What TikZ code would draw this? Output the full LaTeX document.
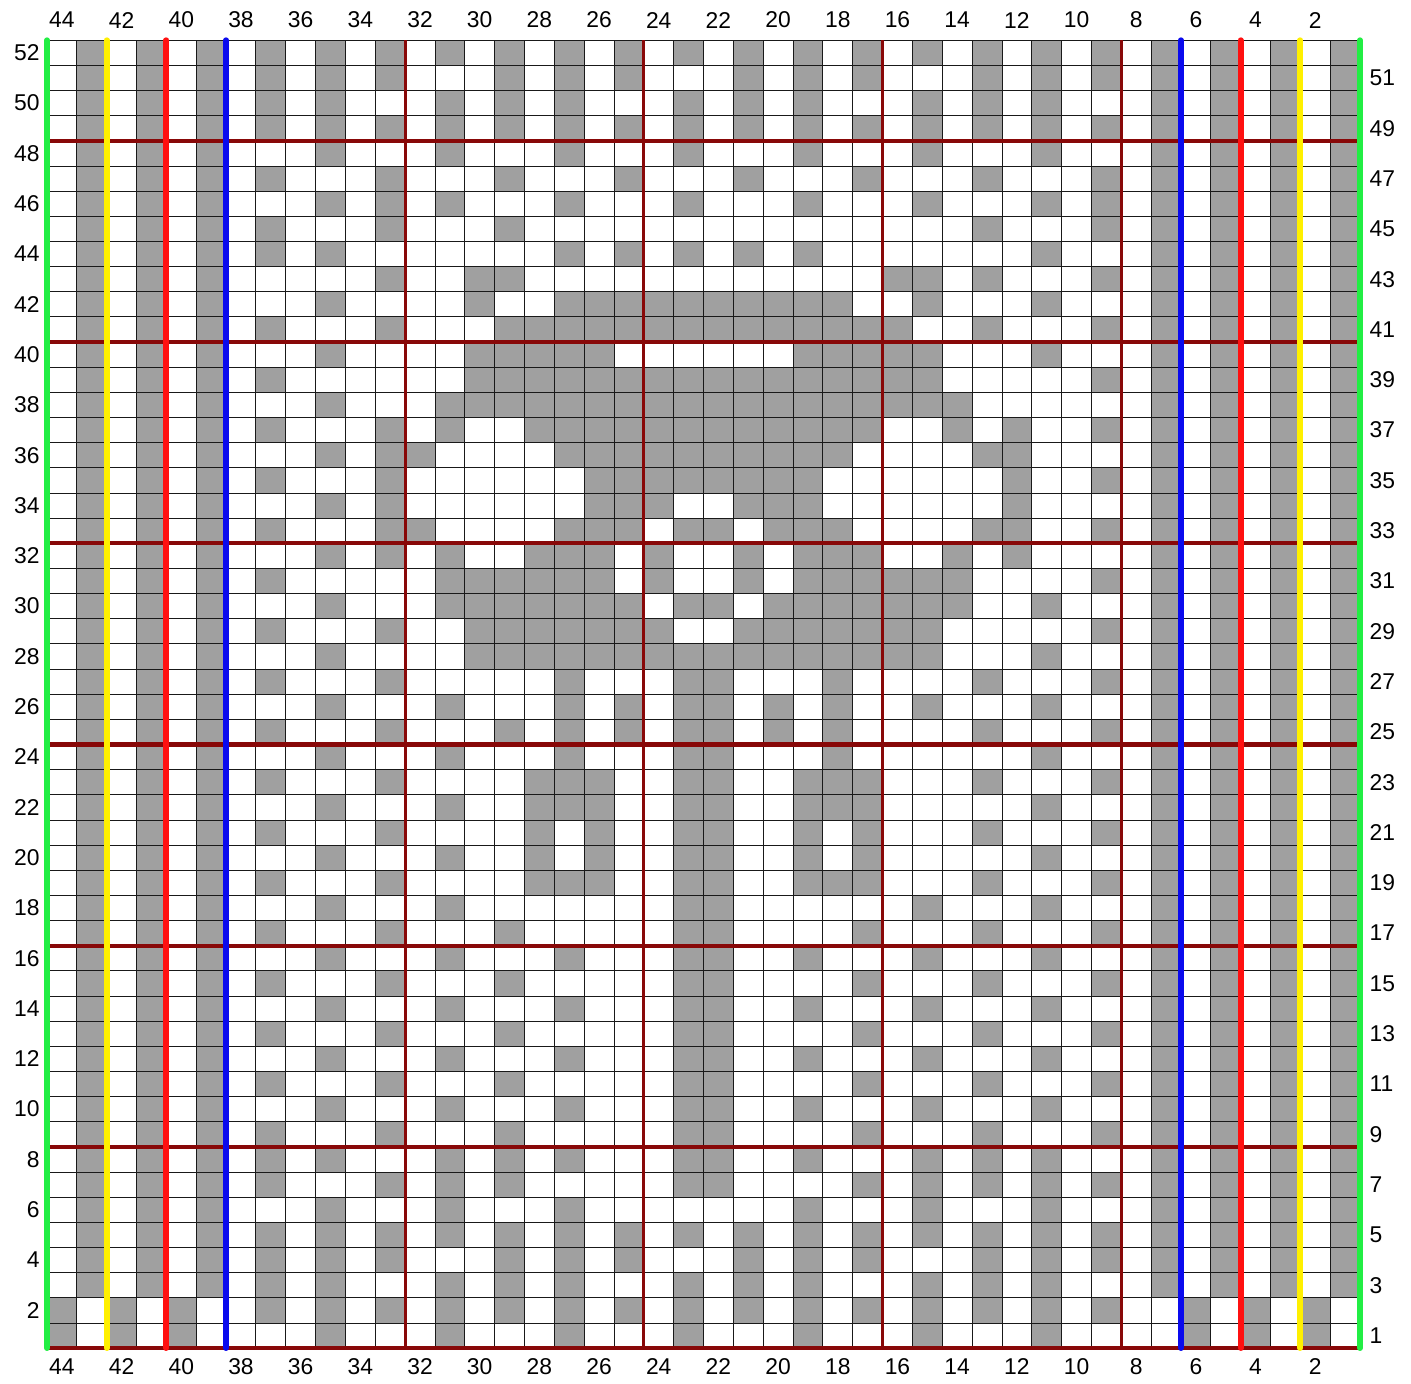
\documentclass[tikz,border=0pt]{standalone}
\usepackage{fontspec}
\setmainfont{Liberation Sans}
\usepackage{tikz}
\usetikzlibrary{positioning}
\definecolor{ChartGray}{HTML}{A0A0A0}
\definecolor{DarkRed}{HTML}{880808}
\definecolor{MarkGreen}{HTML}{22EE44}
\definecolor{MarkYellow}{HTML}{FFF000}
\definecolor{MarkRed}{HTML}{FF1010}
\definecolor{MarkBlue}{HTML}{0A0AEE}

\begin{document}
\begin{tikzpicture}[x=0.5968cm, y=0.503cm,
    cell/.style={fill=ChartGray},
    fine grid/.style={black!90, line width=0.45pt},
    section/.style={DarkRed, line width=1.7pt},
    marker/.style={line width=3.3pt, line cap=round},
    num/.style={font=\fontsize{13}{15}\selectfont, inner sep=1pt}]
  \path[use as bounding box, fill=white] (-1.575,-1.392) rectangle (45.71,53.6);

  % side ribbing
  \foreach \c in {2,4,6,38,40,42,44}
    \fill[cell] (\c-1,2) rectangle (\c,52);
  \foreach \c in {1,3,5,39,41,43}
    \fill[cell] (\c-1,0) rectangle (\c,2);

  % grey runs per row, columns counted from the left
  \foreach \r/\runs in {
    52/{8/8,10/10,12/12,14/14,16/16,18/18,20/20,22/22,24/24,26/26,28/28,30/30,32/32,34/34,36/36},
    51/{8/8,10/10,12/12,16/16,18/18,20/20,24/24,26/26,28/28,32/32,34/34,36/36},
    50/{8/8,10/10,14/14,16/16,18/18,22/22,24/24,26/26,30/30,32/32,34/34},
    49/{8/8,10/10,12/12,14/14,16/16,18/18,20/20,22/22,24/24,26/26,28/28,30/30,32/32,34/34,36/36},
    48/{10/10,14/14,18/18,22/22,26/26,30/30,34/34},
    47/{8/8,12/12,16/16,20/20,24/24,28/28,32/32,36/36},
    46/{10/10,12/12,14/14,18/18,22/22,26/26,30/30,34/34,36/36},
    45/{8/8,12/12,16/16,32/32,36/36},
    44/{8/8,10/10,18/18,20/20,22/22,24/24,26/26,34/34},
    43/{12/12,15/16,29/30,32/32,36/36},
    42/{10/10,15/15,18/27,30/30,34/34},
    41/{8/8,12/12,16/29,32/32,36/36},
    40/{10/10,15/19,26/30,34/34},
    39/{8/8,15/30,36/36},
    38/{10/10,14/31},
    37/{8/8,12/12,14/14,17/28,31/31,33/33,36/36},
    36/{10/10,12/13,18/27,32/33},
    35/{8/8,12/12,19/26,33/33,36/36},
    34/{10/10,12/12,19/21,24/26,33/33},
    33/{8/8,12/13,18/20,22/23,25/27,32/33,36/36},
    32/{10/10,12/12,14/14,17/19,21/21,24/24,26/28,31/31,33/33},
    31/{8/8,14/19,21/21,24/24,26/31,36/36},
    30/{10/10,14/20,22/23,25/31,34/34},
    29/{8/8,12/12,15/21,24/30,36/36},
    28/{10/10,15/30,34/34},
    27/{8/8,12/12,18/18,22/23,27/27,32/32,36/36},
    26/{10/10,14/14,18/18,20/20,22/23,25/25,27/27,30/30,34/34},
    25/{8/8,12/12,16/16,18/18,20/20,22/23,25/25,27/27,32/32,36/36},
    24/{10/10,14/14,18/18,22/23,27/27,34/34},
    23/{8/8,12/12,17/19,22/23,26/28,32/32,36/36},
    22/{10/10,14/14,17/19,22/23,26/28,34/34},
    21/{8/8,12/12,17/17,19/19,22/23,26/26,28/28,32/32,36/36},
    20/{10/10,14/14,17/17,19/19,22/23,26/26,28/28,34/34},
    19/{8/8,12/12,17/19,22/23,26/28,32/32,36/36},
    18/{10/10,14/14,22/23,30/30,34/34},
    17/{8/8,12/12,16/16,22/23,28/28,32/32,36/36},
    16/{10/10,14/14,18/18,22/23,26/26,30/30,34/34},
    15/{8/8,12/12,16/16,22/23,28/28,32/32,36/36},
    14/{10/10,14/14,18/18,22/23,26/26,30/30,34/34},
    13/{8/8,12/12,16/16,22/23,28/28,32/32,36/36},
    12/{10/10,14/14,18/18,22/23,26/26,30/30,34/34},
    11/{8/8,12/12,16/16,22/23,28/28,32/32,36/36},
    10/{10/10,14/14,18/18,22/23,26/26,30/30,34/34},
    9/{8/8,12/12,16/16,22/23,28/28,32/32,36/36},
    8/{8/8,10/10,14/14,16/16,18/18,22/23,26/26,30/30,32/32,34/34},
    7/{8/8,12/12,14/14,16/16,22/23,28/28,30/30,32/32,34/34,36/36},
    6/{10/10,14/14,18/18,26/26,30/30,34/34},
    5/{8/8,10/10,12/12,14/14,16/16,18/18,20/20,22/22,24/24,26/26,28/28,30/30,32/32,34/34,36/36},
    4/{8/8,10/10,12/12,16/16,18/18,20/20,24/24,26/26,28/28,32/32,34/34,36/36},
    3/{8/8,10/10,14/14,16/16,18/18,22/22,24/24,26/26,30/30,32/32,34/34},
    2/{8/8,10/10,12/12,14/14,16/16,18/18,20/20,22/22,24/24,26/26,28/28,30/30,32/32,34/34,36/36},
    1/{10/10,14/14,18/18,22/22,26/26,30/30,34/34}%
  } {
    \foreach \a/\b in \runs
      \fill[cell] (\a-1,\r-1) rectangle (\b,\r);
  }

  % cell lines
  \foreach \x in {0,...,44}
    \draw[fine grid] (\x,0) -- (\x,52);
  \foreach \y in {0,...,52}
    \draw[fine grid] (0,\y) -- (44,\y);

  % repeat boundaries
  \foreach \x in {12,20,28,36}
    \draw[section] (\x,0) -- (\x,52);
  \foreach \y in {0,8,...,48}
    \draw[section, line width=2.4pt] (0,\y) -- (44,\y);

  % marker lines
  \foreach \x/\col in {2/MarkYellow,42/MarkYellow,4/MarkRed,40/MarkRed,6/MarkBlue,38/MarkBlue,0/MarkGreen,44/MarkGreen}
    \draw[marker, \col] (\x,0) -- (\x,52);

  % stitch and row numbers
  \foreach \c in {44,42,...,2} {
    \node[num] (top\c) at (44.5-\c,52.8) {\c};
    \node[num] (bot\c) at (44.5-\c,-0.75) {\c};
  }
  \foreach \r in {52,50,...,2}
    \node[num, anchor=east] (left\r) at (-0.18,\r-0.5) {\r};
  \foreach \r in {51,49,...,1}
    \node[num, anchor=west] (right\r) at (44.25,\r-0.5) {\r};
\end{tikzpicture}
\end{document}
